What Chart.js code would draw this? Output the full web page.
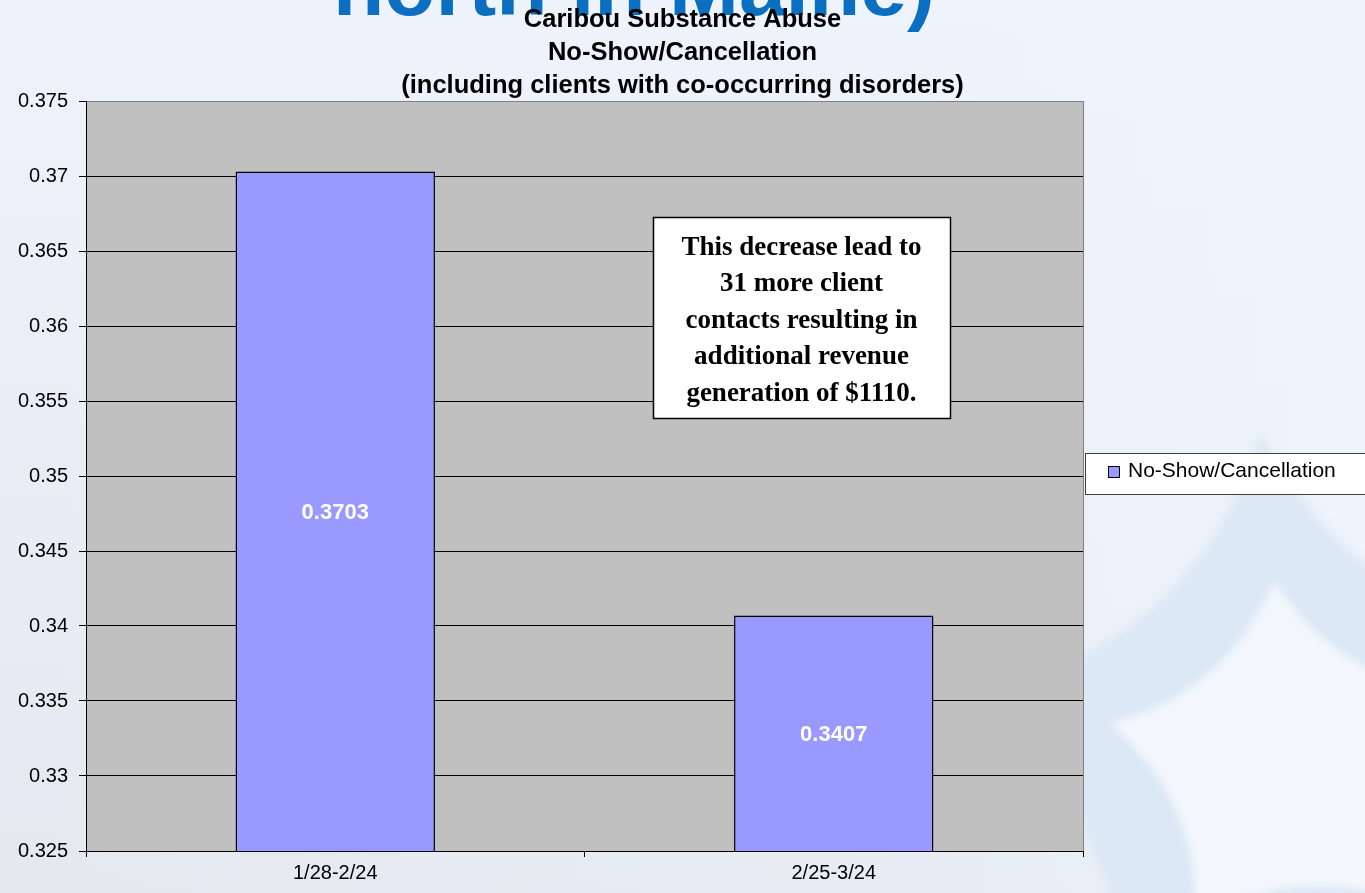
<!DOCTYPE html>
<html>
<head>
<meta charset="utf-8">
<script src="https://cdn.jsdelivr.net/npm/chart.js@4"></script>
<style>
  body { margin: 0; background: #eaf0f8; }
  canvas { display: block; }
</style>
</head>
<body>
<canvas id="barChart" width="1365" height="893"></canvas>
<script>
// no-show / cancellation rate for the two periods
var periods = ["1/28-2/24", "2/25-3/24"];
var noShow = [0.3703, 0.3407];
var seriesName = "No-Show/Cancellation";

var titleLines = [
  "Caribou Substance Abuse",
  "No-Show/Cancellation",
  "(including clients with co-occurring disorders)"
];
var headline = "north in Maine)";
var noteLines = [
  "This decrease lead to",
  "31 more client",
  "contacts resulting in",
  "additional revenue",
  "generation of $1110."
];

var sans = "'Liberation Sans', Arial, sans-serif";
var serif = "'Liberation Serif', 'Times New Roman', serif";

// rounded five point star, concave sides
function starPath(ctx, cx, cy, rOut, rIn, rot) {
  ctx.beginPath();
  for (var i = 0; i < 5; i++) {
    var a = rot + i * Math.PI * 2 / 5;
    var b = a + Math.PI / 5;
    var c = a + Math.PI * 2 / 5;
    if (i === 0) ctx.moveTo(cx + rOut * Math.cos(a), cy + rOut * Math.sin(a));
    ctx.quadraticCurveTo(cx + rIn * Math.cos(b), cy + rIn * Math.sin(b),
                         cx + rOut * Math.cos(c), cy + rOut * Math.sin(c));
  }
  ctx.closePath();
}

var backdrop = {
  id: "backdrop",
  beforeDraw: function(chart) {
    var ctx = chart.ctx, w = chart.width, h = chart.height, a = chart.chartArea;
    ctx.save();
    var g = ctx.createLinearGradient(0, 0, 0, h);
    g.addColorStop(0, "#eef3fb");
    g.addColorStop(1, "#e4e9f0");
    ctx.fillStyle = g;
    ctx.fillRect(0, 0, w, h);
    // lighter towards the right
    var g2 = ctx.createLinearGradient(0, 0, w, 0);
    g2.addColorStop(0, "rgba(240,246,253,0)");
    g2.addColorStop(0.7, "rgba(240,246,253,0.3)");
    g2.addColorStop(1, "rgba(240,246,253,0.8)");
    ctx.fillStyle = g2;
    ctx.fillRect(0, 0, w, h);

    // snowflake shapes on the right
    ctx.filter = "blur(5px)";
    ctx.fillStyle = "#dce8f5";
    starPath(ctx, 1290, 770, 340, 150, -95 * Math.PI / 180);
    ctx.fill();
    ctx.fillStyle = "#f3f7fd";
    starPath(ctx, 1290, 765, 185, 95, -95 * Math.PI / 180);
    ctx.fill();
    ctx.filter = "none";

    // slide heading, cut off at the top
    ctx.fillStyle = "#0a6fc0";
    ctx.font = "bold 84px " + sans;
    ctx.textAlign = "left";
    ctx.textBaseline = "alphabetic";
    ctx.fillText(headline, 333, 15);

    // plot background
    ctx.fillStyle = "#c0c0c0";
    ctx.fillRect(a.left, a.top, a.right - a.left, a.bottom - a.top);
    ctx.restore();
  },
  afterDraw: function(chart) {
    var ctx = chart.ctx, a = chart.chartArea;
    ctx.save();
    // right edge of the plot
    ctx.strokeStyle = "#808080";
    ctx.lineWidth = 1;
    ctx.beginPath();
    ctx.moveTo(Math.round(a.right) + 0.5, a.top);
    ctx.lineTo(Math.round(a.right) + 0.5, a.bottom);
    ctx.stroke();

    // note box
    var bx = 653, by = 217, bw = 297, bh = 201;
    ctx.fillStyle = "#ffffff";
    ctx.fillRect(bx, by, bw, bh);
    ctx.strokeStyle = "#000";
    ctx.lineWidth = 1.5;
    ctx.strokeRect(bx + 0.5, by + 0.5, bw, bh);
    ctx.fillStyle = "#000";
    ctx.font = "bold 27px " + serif;
    ctx.textAlign = "center";
    ctx.textBaseline = "middle";
    noteLines.forEach(function(t, i) {
      ctx.fillText(t, bx + bw / 2, by + 31 + i * 36.5);
    });

    // legend
    var ds = chart.data.datasets[0];
    var lx = 1085, ly = 453;
    ctx.fillStyle = "#ffffff";
    ctx.fillRect(lx, ly, 290, 41);
    ctx.strokeStyle = "#404040";
    ctx.lineWidth = 1;
    ctx.strokeRect(lx + 0.5, ly + 0.5, 290, 41);
    ctx.fillStyle = ds.backgroundColor;
    ctx.fillRect(1108.5, 466.5, 11, 11);
    ctx.strokeStyle = "#000";
    ctx.strokeRect(1108.5, 466.5, 11, 11);
    ctx.fillStyle = "#000";
    ctx.font = "21px " + sans;
    ctx.textAlign = "left";
    ctx.textBaseline = "middle";
    ctx.fillText(ds.label, 1128, 471);
    ctx.restore();
  }
};

// value labels in the middle of each bar
var barValues = {
  id: "barValues",
  afterDatasetsDraw: function(chart) {
    var ctx = chart.ctx, a = chart.chartArea;
    var meta = chart.getDatasetMeta(0);
    ctx.save();
    ctx.fillStyle = "#ffffff";
    ctx.font = "bold 22px " + sans;
    ctx.textAlign = "center";
    ctx.textBaseline = "middle";
    meta.data.forEach(function(bar, i) {
      var p = bar.getProps(["x", "y", "base"], true);
      var bottom = Math.min(p.base, a.bottom);
      ctx.fillText(noShow[i].toFixed(4), p.x, (p.y + bottom) / 2 + 2);
    });
    ctx.restore();
  }
};

new Chart(document.getElementById("barChart"), {
  type: "bar",
  data: {
    labels: periods,
    datasets: [{
      label: seriesName,
      data: noShow,
      backgroundColor: "#9999ff",
      borderColor: "#000000",
      borderWidth: 1.5,
      categoryPercentage: 1,
      barPercentage: 0.4
    }]
  },
  options: {
    responsive: false,
    animation: false,
    layout: { padding: 0 },
    plugins: {
      legend: { display: false },
      tooltip: { enabled: false },
      title: {
        display: true,
        text: titleLines,
        color: "#000",
        font: { family: sans, size: 25.5, weight: "bold", lineHeight: "33px" },
        padding: { top: 3, bottom: -1 }
      }
    },
    scales: {
      x: {
        grid: { offset: true, drawOnChartArea: false, drawTicks: true, tickLength: 6, color: "#000", tickColor: "#000" },
        border: { color: "#000", width: 1 },
        ticks: { color: "#000", padding: 4, font: { family: sans, size: 20 } },
        afterFit: function(scale) { scale.height = 42; }
      },
      y: {
        min: 0.325,
        max: 0.375,
        grid: {
          color: function(c) { return c.tick && c.tick.value > 0.3749 ? "#808080" : "#000"; },
          tickColor: "#000",
          tickLength: 7,
          lineWidth: 1
        },
        border: { color: "#000", width: 1 },
        ticks: {
          stepSize: 0.005,
          color: "#000",
          padding: 11,
          font: { family: sans, size: 20 },
          callback: function(v) { return String(parseFloat(v.toFixed(4))); }
        },
        afterFit: function(scale) { scale.width = 86; }
      },
      // empty right-hand axis that keeps room for the legend
      side: {
        type: "linear",
        position: "right",
        grid: { display: false },
        border: { display: false },
        ticks: { display: false },
        afterFit: function(scale) { scale.width = 282; }
      }
    }
  },
  plugins: [backdrop, barValues]
});
</script>
</body>
</html>
